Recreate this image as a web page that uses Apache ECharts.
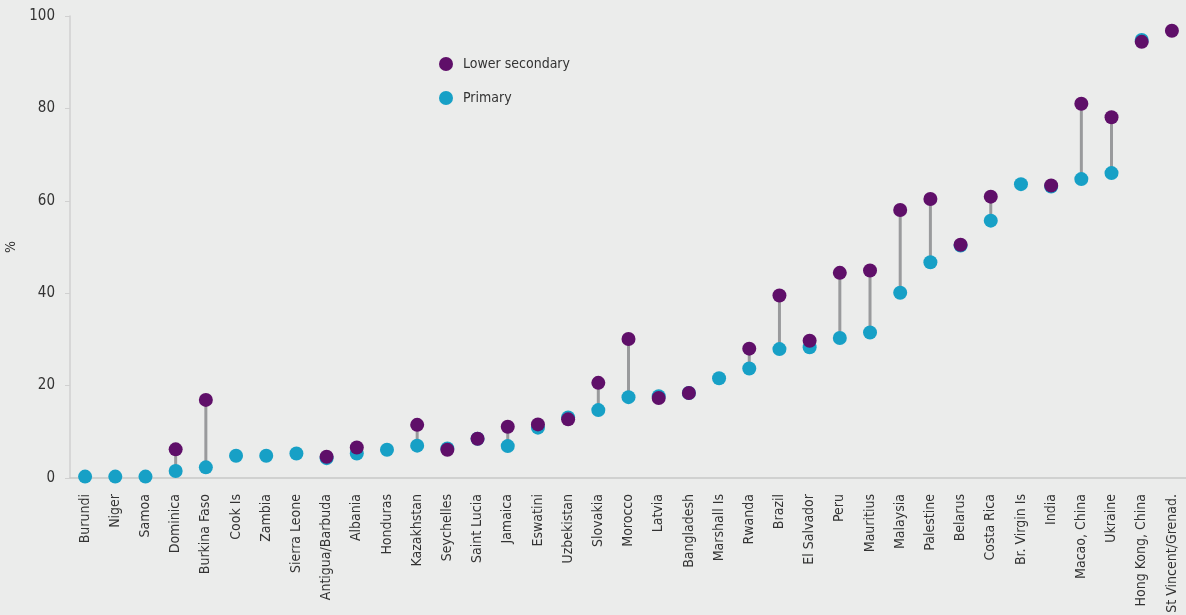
<!DOCTYPE html>
<html>
<head>
<meta charset="utf-8">
<script src="https://cdn.jsdelivr.net/npm/echarts@6/dist/echarts.min.js"></script>
<style>
html,body{margin:0;padding:0;background:#ebeceb;}
#chart{width:1186px;height:615px;}
</style>
</head>
<body>
<div id="chart"></div>
<script>
var categories = ["Burundi","Niger","Samoa","Dominica","Burkina Faso","Cook Is","Zambia","Sierra Leone","Antigua/Barbuda","Albania","Honduras","Kazakhstan","Seychelles","Saint Lucia","Jamaica","Eswatini","Uzbekistan","Slovakia","Morocco","Latvia","Bangladesh","Marshall Is","Rwanda","Brazil","El Salvador","Peru","Mauritius","Malaysia","Palestine","Belarus","Costa Rica","Br. Virgin Is","India","Macao, China","Ukraine","Hong Kong, China","St Vincent/Grenad."];
var primary = [0.3,0.3,0.3,1.5,2.3,4.8,4.8,5.3,4.3,5.3,6.1,7.0,6.4,8.5,6.9,10.9,13.1,14.7,17.5,17.7,18.4,21.6,23.7,27.9,28.3,30.3,31.5,40.1,46.7,50.3,55.7,63.6,63.1,64.7,66.0,94.8,null];
var lowerSecondary = [null,null,null,6.2,16.9,null,null,null,4.6,6.6,null,11.5,6.1,8.5,11.1,11.6,12.7,20.6,30.1,17.3,18.4,null,28.0,39.5,29.7,44.4,44.9,58.0,60.4,50.5,60.9,null,63.3,81.0,78.1,94.4,96.8];
var yTicks = [0,20,40,60,80,100];

var purple = '#5f0f69';
var cyan = '#17a0c6';
var font = '"Liberation Sans Narrow","DejaVu Sans Condensed",sans-serif';

var rangeData = categories.map(function(c,i){
  return [i, primary[i], lowerSecondary[i]];
}).filter(function(d){ return d[1] != null && d[2] != null; });

var chart = echarts.init(document.getElementById('chart'));
chart.setOption({
  backgroundColor:'#ebeceb',
  animation:false,
  grid:{left:70,right:-1,top:16,bottom:137,containLabel:false,outerBoundsMode:'none'},
  legend:{
    orient:'vertical', left:434, top:52, itemGap:20,
    itemWidth:14, itemHeight:14, icon:'circle',
    textStyle:{fontFamily:font,fontSize:14,color:'#333',padding:[0,0,0,5]},
    data:['Lower secondary','Primary']
  },
  xAxis:{
    type:'category', data:categories,
    axisLine:{lineStyle:{color:'#c8c8c8',width:1.5}},
    axisTick:{show:false},
    axisLabel:{rotate:90,interval:0,margin:16,fontFamily:font,fontSize:14,color:'#333'}
  },
  yAxis:{
    type:'value', min:yTicks[0], max:yTicks[yTicks.length-1], interval:20,
    name:'%', nameLocation:'middle', nameGap:46, nameRotate:90,
    nameTextStyle:{fontFamily:font,fontSize:14,color:'#333'},
    axisLine:{show:true,lineStyle:{color:'#d0d0d0',width:1.5}},
    axisTick:{show:true,length:5,lineStyle:{color:'#d0d0d0'}},
    splitLine:{show:false},
    axisLabel:{margin:15,fontFamily:font,fontSize:15,color:'#333'}
  },
  series:[
    {
      type:'custom', name:'range', silent:true,
      data:rangeData,
      encode:{x:0,y:[1,2]},
      renderItem:function(params,api){
        var p1 = api.coord([api.value(0), api.value(1)]);
        var p2 = api.coord([api.value(0), api.value(2)]);
        return {type:'line', shape:{x1:p1[0],y1:p1[1],x2:p2[0],y2:p2[1]},
          style:{stroke:'#999a9c',lineWidth:3}};
      },
      z:1
    },
    {type:'scatter', name:'Primary', data:primary, symbolSize:14,
      itemStyle:{color:cyan,opacity:1}, z:2},
    {type:'scatter', name:'Lower secondary', data:lowerSecondary, symbolSize:14,
      itemStyle:{color:purple,opacity:1}, z:3}
  ]
});
</script>
</body>
</html>
